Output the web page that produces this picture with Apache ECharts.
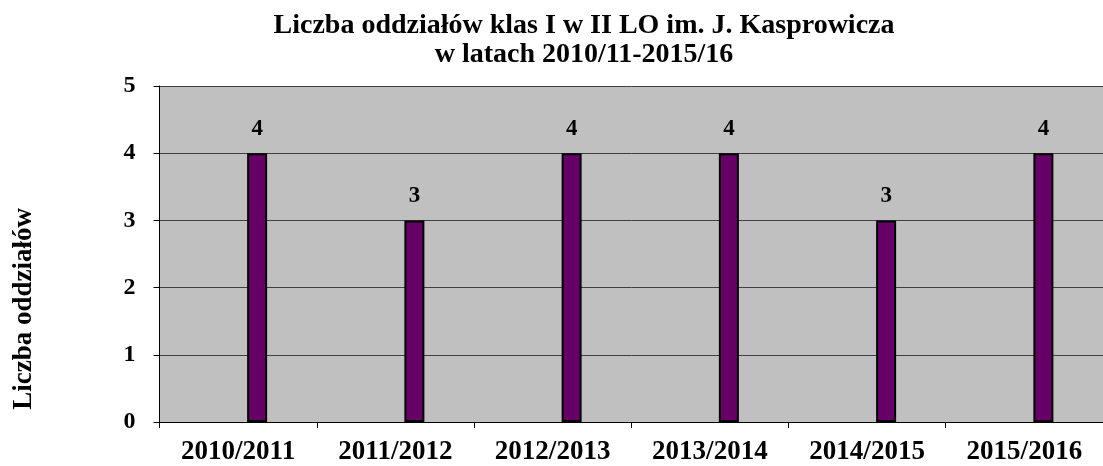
<!DOCTYPE html>
<html>
<head>
<meta charset="utf-8">
<script src="https://cdn.jsdelivr.net/npm/echarts@6/dist/echarts.min.js"></script>
<style>
html,body{margin:0;padding:0;background:#fff;}
#chart{width:1103px;height:466px;}
</style>
</head>
<body>
<div id="chart"></div>
<script>
const categories = ['2010/2011','2011/2012','2012/2013','2013/2014','2014/2015','2015/2016'];
const values = [4, 3, 4, 4, 3, 4];
const placeholder = [null, null, null, null, null, null];
const yTicks = [0, 1, 2, 3, 4, 5];
const titleLines = ['Liczba oddziałów klas I w II LO im. J. Kasprowicza', 'w latach 2010/11-2015/16'];
const yName = 'Liczba oddziałów';

const FONT = '"Liberation Serif", "Times New Roman", serif';
const chart = echarts.init(document.getElementById('chart'), null, {renderer:'canvas'});
chart.setOption({
  animation: false,
  title: {
    text: titleLines.join('\n'),
    left: 579, top: 6, textAlign: 'center',
    textStyle: {fontFamily: FONT, fontWeight: 'bold', fontSize: 28, lineHeight: 29, color: '#000'}
  },
  graphic: [{
    type: 'text', left: 11, top: 208,
    rotation: Math.PI/2,
    style: {text: yName, font: 'bold 27px ' + FONT, fill: '#000'},
    originX: 0, originY: 0
  }],
  grid: {left: 159.5, top: 86, width: 957.4, height: 336, show: true, backgroundColor: '#C0C0C0', borderWidth: 0},
  xAxis: {
    type: 'category', data: categories,
    axisLine: {lineStyle: {color: '#000', width: 1}},
    axisTick: {show: true, length: 6, lineStyle: {color: '#000'}},
    axisLabel: {fontFamily: FONT, fontWeight: 'bold', fontSize: 27, color: '#000', margin: 17, interval: 0}
  },
  yAxis: {
    type: 'value', min: yTicks[0], max: yTicks[yTicks.length-1], interval: 1,
    axisLine: {show: true, lineStyle: {color: '#000', width: 1}},
    axisTick: {show: true, length: 6, lineStyle: {color: '#000'}},
    axisLabel: {fontFamily: FONT, fontWeight: 'bold', fontSize: 24, color: '#000', margin: 24},
    splitLine: {show: true, lineStyle: {color: '#404040', width: 1}}
  },
  series: [
    {type: 'bar', data: placeholder, barWidth: 20, barGap: '90%', silent: true},
    {type: 'bar', data: values, barWidth: 20, barGap: '90%',
     itemStyle: {color: '#660066', borderColor: '#000', borderWidth: 2},
     label: {show: true, position: 'top', distance: 13, fontFamily: FONT, fontWeight: 'bold', fontSize: 23, color: '#000'}}
  ]
});
</script>
</body>
</html>
